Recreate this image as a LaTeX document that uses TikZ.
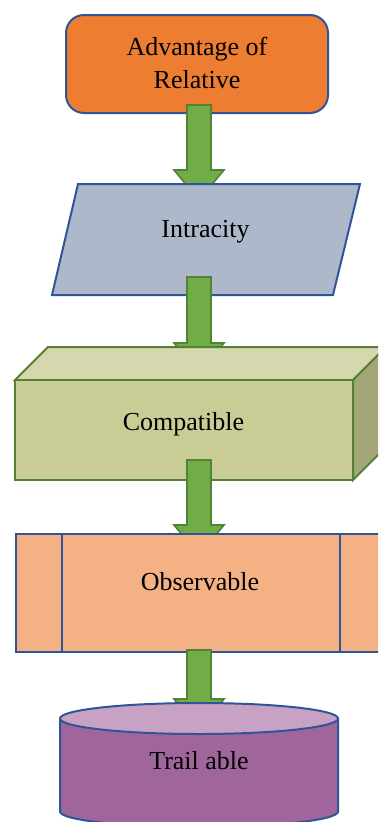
\documentclass[tikz,border=0pt]{standalone}
\usepackage{fontspec}
\setmainfont{Liberation Serif}
\usetikzlibrary{calc}

\definecolor{edgeblue}{HTML}{2F5597}
\definecolor{orangefill}{HTML}{ED7D31}
\definecolor{slatefill}{HTML}{ADB9CA}
\definecolor{cubefront}{HTML}{C9CC95}
\definecolor{cubetop}{HTML}{D5D7AE}
\definecolor{cubeside}{HTML}{A3A676}
\definecolor{cubeedge}{HTML}{548235}
\definecolor{peachfill}{HTML}{F4B183}
\definecolor{plumbody}{HTML}{A0669B}
\definecolor{plumtop}{HTML}{C8A2C5}
\definecolor{arrowgreen}{HTML}{70AD47}
\definecolor{arrowedge}{HTML}{548235}

% Block arrow along the common axis: #1 upper node, #2 lower node,
% #3 how far the shaft starts inside #1, #4 gap between head base and top of #2
\newcommand\flowarrow[4]{%
  \draw[flow] let \p1=(axis |- #1.south), \p2=(axis |- #2.north) in
    (\x1-12pt,\y1+#3pt) -- (\x1-12pt,\y2+#4pt) -- (\x1-25pt,\y2+#4pt)
    -- (\x1,\y2+#4pt-30pt) -- (\x1+25pt,\y2+#4pt) -- (\x1+12pt,\y2+#4pt)
    -- (\x1+12pt,\y1+#3pt) -- cycle;}

\begin{document}
\begin{tikzpicture}[x=1pt,y=-1pt,
  font=\fontsize{26}{33}\selectfont,
  frame/.style={rectangle,inner sep=0pt,outer sep=0pt},
  txt/.style={inner sep=0pt,outer sep=0pt},
  outline/.style={line width=2pt,line join=miter},
  flow/.style={fill=arrowgreen,draw=arrowedge,line width=1.6pt,line join=miter}]
\useasboundingbox (0,0) rectangle (378,822);
\clip (0,0) rectangle (378,822);
\coordinate (axis) at (199,0);

% geometry of the five stages
\node[frame,minimum width=262,minimum height=98]  (adv)    at (197,64)    {};
\node[frame,minimum width=308,minimum height=111] (intra)  at (206,239.5) {};
\node[frame,minimum width=371,minimum height=133] (compat) at (200.5,413.5) {};
\node[frame,minimum width=370,minimum height=118] (obs)    at (201,593)   {};
\node[frame,minimum width=278,minimum height=124] (trail)  at (199,765)   {};

% stage 1: rounded box
\draw[outline,draw=edgeblue,fill=orangefill,rounded corners=18pt]
  (adv.north west) rectangle (adv.south east);
\node[txt,align=center] (advtext) at (197,62.6) {Advantage of\\Relative};

\flowarrow{adv}{intra}{8}{14}

% stage 2: parallelogram
\draw[outline,draw=edgeblue,fill=slatefill]
  ($(intra.north west)+(26,0)$) -- (intra.north east)
  -- ($(intra.south east)+(-27,0)$) -- (intra.south west) -- cycle;
\node[txt] (intratext) at (205.5,232) {Intracity};

\flowarrow{intra}{compat}{18}{4}

% stage 3: box in perspective
\coordinate (cfnw) at ($(compat.south west)+(0,-100)$);
\coordinate (cfne) at ($(compat.north east)+(-33,33)$);
\coordinate (cfse) at ($(compat.south east)+(-33,0)$);
\coordinate (cbse) at ($(compat.south east)+(0,-33)$);
\draw[outline,draw=cubeedge,fill=cubetop]
  (cfnw) -- ($(compat.north west)+(33,0)$) -- (compat.north east) -- (cfne) -- cycle;
\draw[outline,draw=cubeedge,fill=cubeside]
  (cfne) -- (compat.north east) -- (cbse) -- (cfse) -- cycle;
\draw[outline,draw=cubeedge,fill=cubefront]
  (cfnw) rectangle (cfse);
\node[txt] (compattext) at (183.5,424) {Compatible};

\flowarrow{compat}{obs}{20}{9}

% stage 4: process box with side bars
\draw[outline,draw=edgeblue,fill=peachfill]
  (obs.north west) rectangle (obs.south east);
\draw[outline,draw=edgeblue]
  ($(obs.north west)+(46,0)$) -- ($(obs.south west)+(46,0)$)
  ($(obs.north east)+(-46,0)$) -- ($(obs.south east)+(-46,0)$);
\node[txt] (obstext) at (200,582) {Observable};

\flowarrow{obs}{trail}{2}{4}

% stage 5: cylinder
\draw[outline,draw=edgeblue,fill=plumbody]
  ($(trail.north west)+(0,15.5)$) -- ($(trail.south west)+(0,-15.5)$)
  arc[start angle=180,end angle=360,x radius=139pt,y radius=15.5pt]
  -- ($(trail.north east)+(0,15.5)$) -- cycle;
\draw[outline,draw=edgeblue,fill=plumtop]
  ($(trail.north)+(0,15.5)$) ellipse[x radius=139pt,y radius=15.5pt];
\node[txt] (trailtext) at (199,761) {Trail able};
\end{tikzpicture}
\end{document}
